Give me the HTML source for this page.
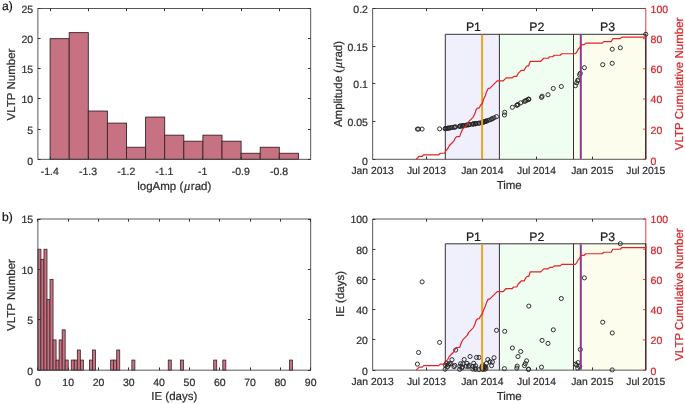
<!DOCTYPE html>
<html lang="en">
<head>
<meta charset="utf-8">
<title>VLTP amplitude and inter-event time statistics</title>
<style>
html,body{margin:0;padding:0;background:#fff;}
body{width:685px;height:404px;overflow:hidden;}
svg .mu{font-family:"Liberation Serif","DejaVu Serif",serif;}
svg text{stroke-width:0.22px;paint-order:stroke fill;}
svg{display:block;font-family:"Liberation Sans", Arial, Helvetica, sans-serif;opacity:0.999;will-change:transform;}
</style>
</head>
<body>
<svg width="685" height="404" viewBox="0 0 685 404" text-rendering="geometricPrecision">
<rect x="0" y="0" width="685" height="404" fill="#ffffff"/>
<rect x="50.1" y="38.66" width="19.1" height="120.64" fill="#c77282" stroke="#3a2226" stroke-width="0.9"/>
<rect x="69.2" y="32.63" width="19.1" height="126.67" fill="#c77282" stroke="#3a2226" stroke-width="0.9"/>
<rect x="88.3" y="111.04" width="19.1" height="48.26" fill="#c77282" stroke="#3a2226" stroke-width="0.9"/>
<rect x="107.4" y="123.11" width="19.1" height="36.19" fill="#c77282" stroke="#3a2226" stroke-width="0.9"/>
<rect x="126.5" y="147.24" width="19.1" height="12.06" fill="#c77282" stroke="#3a2226" stroke-width="0.9"/>
<rect x="145.6" y="117.08" width="19.1" height="42.22" fill="#c77282" stroke="#3a2226" stroke-width="0.9"/>
<rect x="164.7" y="135.17" width="19.1" height="24.13" fill="#c77282" stroke="#3a2226" stroke-width="0.9"/>
<rect x="183.8" y="141.2" width="19.1" height="18.1" fill="#c77282" stroke="#3a2226" stroke-width="0.9"/>
<rect x="202.9" y="135.17" width="19.1" height="24.13" fill="#c77282" stroke="#3a2226" stroke-width="0.9"/>
<rect x="222" y="141.2" width="19.1" height="18.1" fill="#c77282" stroke="#3a2226" stroke-width="0.9"/>
<rect x="241.1" y="153.27" width="19.1" height="6.03" fill="#c77282" stroke="#3a2226" stroke-width="0.9"/>
<rect x="260.2" y="147.24" width="19.1" height="12.06" fill="#c77282" stroke="#3a2226" stroke-width="0.9"/>
<rect x="279.3" y="153.27" width="19.1" height="6.03" fill="#c77282" stroke="#3a2226" stroke-width="0.9"/>
<rect x="37.9" y="8.5" width="272.8" height="150.8" fill="none" stroke="#454545" stroke-width="0.9"/>
<line x1="50.5" y1="159.3" x2="50.5" y2="156.6" stroke="#333" stroke-width="1"/>
<line x1="50.5" y1="8.5" x2="50.5" y2="11.2" stroke="#333" stroke-width="1"/>
<text x="49.8" y="174.8" font-size="10.5" text-anchor="middle" fill="#2e2e2e" stroke="#2e2e2e" >-1.4</text>
<line x1="88.5" y1="159.3" x2="88.5" y2="156.6" stroke="#333" stroke-width="1"/>
<line x1="88.5" y1="8.5" x2="88.5" y2="11.2" stroke="#333" stroke-width="1"/>
<text x="88" y="174.8" font-size="10.5" text-anchor="middle" fill="#2e2e2e" stroke="#2e2e2e" >-1.3</text>
<line x1="126.5" y1="159.3" x2="126.5" y2="156.6" stroke="#333" stroke-width="1"/>
<line x1="126.5" y1="8.5" x2="126.5" y2="11.2" stroke="#333" stroke-width="1"/>
<text x="126.2" y="174.8" font-size="10.5" text-anchor="middle" fill="#2e2e2e" stroke="#2e2e2e" >-1.2</text>
<line x1="164.5" y1="159.3" x2="164.5" y2="156.6" stroke="#333" stroke-width="1"/>
<line x1="164.5" y1="8.5" x2="164.5" y2="11.2" stroke="#333" stroke-width="1"/>
<text x="164.4" y="174.8" font-size="10.5" text-anchor="middle" fill="#2e2e2e" stroke="#2e2e2e" >-1.1</text>
<line x1="202.5" y1="159.3" x2="202.5" y2="156.6" stroke="#333" stroke-width="1"/>
<line x1="202.5" y1="8.5" x2="202.5" y2="11.2" stroke="#333" stroke-width="1"/>
<text x="202.6" y="174.8" font-size="10.5" text-anchor="middle" fill="#2e2e2e" stroke="#2e2e2e" >-1</text>
<line x1="241.5" y1="159.3" x2="241.5" y2="156.6" stroke="#333" stroke-width="1"/>
<line x1="241.5" y1="8.5" x2="241.5" y2="11.2" stroke="#333" stroke-width="1"/>
<text x="240.8" y="174.8" font-size="10.5" text-anchor="middle" fill="#2e2e2e" stroke="#2e2e2e" >-0.9</text>
<line x1="279.5" y1="159.3" x2="279.5" y2="156.6" stroke="#333" stroke-width="1"/>
<line x1="279.5" y1="8.5" x2="279.5" y2="11.2" stroke="#333" stroke-width="1"/>
<text x="279" y="174.8" font-size="10.5" text-anchor="middle" fill="#2e2e2e" stroke="#2e2e2e" >-0.8</text>
<line x1="37.9" y1="159.5" x2="40.6" y2="159.5" stroke="#333" stroke-width="1"/>
<line x1="310.7" y1="159.5" x2="308" y2="159.5" stroke="#333" stroke-width="1"/>
<text x="33.1" y="164.56" font-size="10.5" text-anchor="end" fill="#2e2e2e" stroke="#2e2e2e" >0</text>
<line x1="37.9" y1="129.5" x2="40.6" y2="129.5" stroke="#333" stroke-width="1"/>
<line x1="310.7" y1="129.5" x2="308" y2="129.5" stroke="#333" stroke-width="1"/>
<text x="33.1" y="133.6" font-size="10.5" text-anchor="end" fill="#2e2e2e" stroke="#2e2e2e" >5</text>
<line x1="37.9" y1="98.5" x2="40.6" y2="98.5" stroke="#333" stroke-width="1"/>
<line x1="310.7" y1="98.5" x2="308" y2="98.5" stroke="#333" stroke-width="1"/>
<text x="33.1" y="103.44" font-size="10.5" text-anchor="end" fill="#2e2e2e" stroke="#2e2e2e" >10</text>
<line x1="37.9" y1="68.5" x2="40.6" y2="68.5" stroke="#333" stroke-width="1"/>
<line x1="310.7" y1="68.5" x2="308" y2="68.5" stroke="#333" stroke-width="1"/>
<text x="33.1" y="73.28" font-size="10.5" text-anchor="end" fill="#2e2e2e" stroke="#2e2e2e" >15</text>
<line x1="37.9" y1="38.5" x2="40.6" y2="38.5" stroke="#333" stroke-width="1"/>
<line x1="310.7" y1="38.5" x2="308" y2="38.5" stroke="#333" stroke-width="1"/>
<text x="33.1" y="43.12" font-size="10.5" text-anchor="end" fill="#2e2e2e" stroke="#2e2e2e" >20</text>
<line x1="37.9" y1="8.5" x2="40.6" y2="8.5" stroke="#333" stroke-width="1"/>
<line x1="310.7" y1="8.5" x2="308" y2="8.5" stroke="#333" stroke-width="1"/>
<text x="33.1" y="12.96" font-size="10.5" text-anchor="end" fill="#2e2e2e" stroke="#2e2e2e" >25</text>
<text x="174.3" y="190.3" font-size="11.5" text-anchor="middle" fill="#2e2e2e" stroke="#2e2e2e" >logAmp (<tspan class="mu" font-style="italic" font-size="12.5" dx="0.6">μ</tspan><tspan dx="0.7">rad</tspan>)</text>
<text transform="translate(14.7 84.5) rotate(-90)" font-size="11.5" text-anchor="middle" fill="#2e2e2e" stroke="#2e2e2e">VLTP Number</text>
<text x="2" y="10.1" font-size="12.1" text-anchor="start" fill="#141414" stroke="#141414" >a)</text>
<rect x="37.9" y="249.23" width="3.03" height="120.92" fill="#c77282" stroke="#3a2226" stroke-width="0.8"/>
<rect x="40.93" y="259.31" width="3.03" height="110.84" fill="#c77282" stroke="#3a2226" stroke-width="0.8"/>
<rect x="43.96" y="249.23" width="3.03" height="120.92" fill="#c77282" stroke="#3a2226" stroke-width="0.8"/>
<rect x="46.99" y="299.61" width="3.03" height="70.54" fill="#c77282" stroke="#3a2226" stroke-width="0.8"/>
<rect x="50.02" y="279.46" width="3.03" height="90.69" fill="#c77282" stroke="#3a2226" stroke-width="0.8"/>
<rect x="53.06" y="339.92" width="3.03" height="30.23" fill="#c77282" stroke="#3a2226" stroke-width="0.8"/>
<rect x="56.09" y="360.07" width="3.03" height="10.08" fill="#c77282" stroke="#3a2226" stroke-width="0.8"/>
<rect x="59.12" y="339.92" width="3.03" height="30.23" fill="#c77282" stroke="#3a2226" stroke-width="0.8"/>
<rect x="62.15" y="329.84" width="3.03" height="40.31" fill="#c77282" stroke="#3a2226" stroke-width="0.8"/>
<rect x="65.18" y="360.07" width="3.03" height="10.08" fill="#c77282" stroke="#3a2226" stroke-width="0.8"/>
<rect x="71.24" y="360.07" width="3.03" height="10.08" fill="#c77282" stroke="#3a2226" stroke-width="0.8"/>
<rect x="74.27" y="360.07" width="3.03" height="10.08" fill="#c77282" stroke="#3a2226" stroke-width="0.8"/>
<rect x="77.3" y="350" width="3.03" height="20.15" fill="#c77282" stroke="#3a2226" stroke-width="0.8"/>
<rect x="80.34" y="360.07" width="3.03" height="10.08" fill="#c77282" stroke="#3a2226" stroke-width="0.8"/>
<rect x="89.43" y="360.07" width="3.03" height="10.08" fill="#c77282" stroke="#3a2226" stroke-width="0.8"/>
<rect x="92.46" y="350" width="3.03" height="20.15" fill="#c77282" stroke="#3a2226" stroke-width="0.8"/>
<rect x="110.65" y="360.07" width="3.03" height="10.08" fill="#c77282" stroke="#3a2226" stroke-width="0.8"/>
<rect x="113.68" y="360.07" width="3.03" height="10.08" fill="#c77282" stroke="#3a2226" stroke-width="0.8"/>
<rect x="116.71" y="350" width="3.03" height="20.15" fill="#c77282" stroke="#3a2226" stroke-width="0.8"/>
<rect x="131.86" y="360.07" width="3.03" height="10.08" fill="#c77282" stroke="#3a2226" stroke-width="0.8"/>
<rect x="168.24" y="360.07" width="3.03" height="10.08" fill="#c77282" stroke="#3a2226" stroke-width="0.8"/>
<rect x="180.36" y="360.07" width="3.03" height="10.08" fill="#c77282" stroke="#3a2226" stroke-width="0.8"/>
<rect x="213.7" y="360.07" width="3.03" height="10.08" fill="#c77282" stroke="#3a2226" stroke-width="0.8"/>
<rect x="222.8" y="360.07" width="3.03" height="10.08" fill="#c77282" stroke="#3a2226" stroke-width="0.8"/>
<rect x="289.48" y="360.07" width="3.03" height="10.08" fill="#c77282" stroke="#3a2226" stroke-width="0.8"/>
<rect x="37.9" y="219" width="272.8" height="151.15" fill="none" stroke="#454545" stroke-width="0.9"/>
<line x1="37.5" y1="370.15" x2="37.5" y2="367.45" stroke="#333" stroke-width="1"/>
<line x1="37.5" y1="219" x2="37.5" y2="221.7" stroke="#333" stroke-width="1"/>
<text x="37.9" y="385.8" font-size="10.5" text-anchor="middle" fill="#2e2e2e" stroke="#2e2e2e" >0</text>
<line x1="68.5" y1="370.15" x2="68.5" y2="367.45" stroke="#333" stroke-width="1"/>
<line x1="68.5" y1="219" x2="68.5" y2="221.7" stroke="#333" stroke-width="1"/>
<text x="68.21" y="385.8" font-size="10.5" text-anchor="middle" fill="#2e2e2e" stroke="#2e2e2e" >10</text>
<line x1="98.5" y1="370.15" x2="98.5" y2="367.45" stroke="#333" stroke-width="1"/>
<line x1="98.5" y1="219" x2="98.5" y2="221.7" stroke="#333" stroke-width="1"/>
<text x="98.52" y="385.8" font-size="10.5" text-anchor="middle" fill="#2e2e2e" stroke="#2e2e2e" >20</text>
<line x1="128.5" y1="370.15" x2="128.5" y2="367.45" stroke="#333" stroke-width="1"/>
<line x1="128.5" y1="219" x2="128.5" y2="221.7" stroke="#333" stroke-width="1"/>
<text x="128.83" y="385.8" font-size="10.5" text-anchor="middle" fill="#2e2e2e" stroke="#2e2e2e" >30</text>
<line x1="159.5" y1="370.15" x2="159.5" y2="367.45" stroke="#333" stroke-width="1"/>
<line x1="159.5" y1="219" x2="159.5" y2="221.7" stroke="#333" stroke-width="1"/>
<text x="159.14" y="385.8" font-size="10.5" text-anchor="middle" fill="#2e2e2e" stroke="#2e2e2e" >40</text>
<line x1="189.5" y1="370.15" x2="189.5" y2="367.45" stroke="#333" stroke-width="1"/>
<line x1="189.5" y1="219" x2="189.5" y2="221.7" stroke="#333" stroke-width="1"/>
<text x="189.46" y="385.8" font-size="10.5" text-anchor="middle" fill="#2e2e2e" stroke="#2e2e2e" >50</text>
<line x1="219.5" y1="370.15" x2="219.5" y2="367.45" stroke="#333" stroke-width="1"/>
<line x1="219.5" y1="219" x2="219.5" y2="221.7" stroke="#333" stroke-width="1"/>
<text x="219.77" y="385.8" font-size="10.5" text-anchor="middle" fill="#2e2e2e" stroke="#2e2e2e" >60</text>
<line x1="250.5" y1="370.15" x2="250.5" y2="367.45" stroke="#333" stroke-width="1"/>
<line x1="250.5" y1="219" x2="250.5" y2="221.7" stroke="#333" stroke-width="1"/>
<text x="250.08" y="385.8" font-size="10.5" text-anchor="middle" fill="#2e2e2e" stroke="#2e2e2e" >70</text>
<line x1="280.5" y1="370.15" x2="280.5" y2="367.45" stroke="#333" stroke-width="1"/>
<line x1="280.5" y1="219" x2="280.5" y2="221.7" stroke="#333" stroke-width="1"/>
<text x="280.39" y="385.8" font-size="10.5" text-anchor="middle" fill="#2e2e2e" stroke="#2e2e2e" >80</text>
<line x1="310.5" y1="370.15" x2="310.5" y2="367.45" stroke="#333" stroke-width="1"/>
<line x1="310.5" y1="219" x2="310.5" y2="221.7" stroke="#333" stroke-width="1"/>
<text x="310.7" y="385.8" font-size="10.5" text-anchor="middle" fill="#2e2e2e" stroke="#2e2e2e" >90</text>
<line x1="37.9" y1="370.5" x2="40.6" y2="370.5" stroke="#333" stroke-width="1"/>
<line x1="310.7" y1="370.5" x2="308" y2="370.5" stroke="#333" stroke-width="1"/>
<text x="33.1" y="375.41" font-size="10.5" text-anchor="end" fill="#2e2e2e" stroke="#2e2e2e" >0</text>
<line x1="37.9" y1="319.5" x2="40.6" y2="319.5" stroke="#333" stroke-width="1"/>
<line x1="310.7" y1="319.5" x2="308" y2="319.5" stroke="#333" stroke-width="1"/>
<text x="33.1" y="324.23" font-size="10.5" text-anchor="end" fill="#2e2e2e" stroke="#2e2e2e" >5</text>
<line x1="37.9" y1="269.5" x2="40.6" y2="269.5" stroke="#333" stroke-width="1"/>
<line x1="310.7" y1="269.5" x2="308" y2="269.5" stroke="#333" stroke-width="1"/>
<text x="33.1" y="273.84" font-size="10.5" text-anchor="end" fill="#2e2e2e" stroke="#2e2e2e" >10</text>
<line x1="37.9" y1="219.5" x2="40.6" y2="219.5" stroke="#333" stroke-width="1"/>
<line x1="310.7" y1="219.5" x2="308" y2="219.5" stroke="#333" stroke-width="1"/>
<text x="33.1" y="223.46" font-size="10.5" text-anchor="end" fill="#2e2e2e" stroke="#2e2e2e" >15</text>
<text x="174.3" y="400.2" font-size="11.5" text-anchor="middle" fill="#2e2e2e" stroke="#2e2e2e" >IE (days)</text>
<text transform="translate(14.7 295) rotate(-90)" font-size="11.5" text-anchor="middle" fill="#2e2e2e" stroke="#2e2e2e">VLTP Number</text>
<text x="2" y="220.6" font-size="12.1" text-anchor="start" fill="#141414" stroke="#141414" >b)</text>
<rect x="445.3" y="34.3" width="54.1" height="125" fill="#f0f0fd"/>
<rect x="499.4" y="34.3" width="74.1" height="125" fill="#f0fdf1"/>
<rect x="573.5" y="34.3" width="72.3" height="125" fill="#fdfdee"/>
<line x1="372.65" y1="8.5" x2="645.8" y2="8.5" stroke="#454545" stroke-width="0.9" />
<line x1="372.65" y1="159.3" x2="645.8" y2="159.3" stroke="#454545" stroke-width="0.9" />
<line x1="372.65" y1="8.5" x2="372.65" y2="159.3" stroke="#454545" stroke-width="0.9" />
<line x1="645.8" y1="8.5" x2="645.8" y2="159.3" stroke="#e32327" stroke-width="0.9" />
<line x1="426.5" y1="159.3" x2="426.5" y2="156.6" stroke="#333" stroke-width="1"/>
<line x1="426.5" y1="8.5" x2="426.5" y2="11.2" stroke="#333" stroke-width="1"/>
<line x1="482.5" y1="159.3" x2="482.5" y2="156.6" stroke="#333" stroke-width="1"/>
<line x1="482.5" y1="8.5" x2="482.5" y2="11.2" stroke="#333" stroke-width="1"/>
<line x1="536.5" y1="159.3" x2="536.5" y2="156.6" stroke="#333" stroke-width="1"/>
<line x1="536.5" y1="8.5" x2="536.5" y2="11.2" stroke="#333" stroke-width="1"/>
<line x1="592.5" y1="159.3" x2="592.5" y2="156.6" stroke="#333" stroke-width="1"/>
<line x1="592.5" y1="8.5" x2="592.5" y2="11.2" stroke="#333" stroke-width="1"/>
<line x1="445.3" y1="34.3" x2="445.3" y2="159.3" stroke="#333" stroke-width="1.0" />
<line x1="499.4" y1="34.3" x2="499.4" y2="159.3" stroke="#333" stroke-width="1.0" />
<line x1="573.5" y1="34.3" x2="573.5" y2="159.3" stroke="#333" stroke-width="1.0" />
<line x1="445.3" y1="34.3" x2="645.8" y2="34.3" stroke="#333" stroke-width="1.0" />
<line x1="645.8" y1="34.3" x2="645.8" y2="159.3" stroke="#2a1e1e" stroke-width="1.2" />
<circle cx="417.4" cy="129.1" r="2.05" fill="none" stroke="#262626" stroke-width="0.95"/>
<circle cx="418.6" cy="129.09" r="2.05" fill="none" stroke="#262626" stroke-width="0.95"/>
<circle cx="422.1" cy="129.06" r="2.05" fill="none" stroke="#262626" stroke-width="0.95"/>
<circle cx="439.6" cy="128.9" r="2.05" fill="none" stroke="#262626" stroke-width="0.95"/>
<circle cx="445.1" cy="128.68" r="2.05" fill="none" stroke="#262626" stroke-width="0.95"/>
<circle cx="445.28" cy="128.65" r="2.05" fill="none" stroke="#262626" stroke-width="0.95"/>
<circle cx="446.29" cy="128.49" r="2.05" fill="none" stroke="#262626" stroke-width="0.95"/>
<circle cx="447.65" cy="128.26" r="2.05" fill="none" stroke="#262626" stroke-width="0.95"/>
<circle cx="448.36" cy="128.14" r="2.05" fill="none" stroke="#262626" stroke-width="0.95"/>
<circle cx="449.4" cy="127.97" r="2.05" fill="none" stroke="#262626" stroke-width="0.95"/>
<circle cx="450.71" cy="127.75" r="2.05" fill="none" stroke="#262626" stroke-width="0.95"/>
<circle cx="451.96" cy="127.54" r="2.05" fill="none" stroke="#262626" stroke-width="0.95"/>
<circle cx="454.03" cy="127.19" r="2.05" fill="none" stroke="#262626" stroke-width="0.95"/>
<circle cx="454.72" cy="127.08" r="2.05" fill="none" stroke="#262626" stroke-width="0.95"/>
<circle cx="455.66" cy="126.92" r="2.05" fill="none" stroke="#262626" stroke-width="0.95"/>
<circle cx="459.64" cy="126.26" r="2.05" fill="none" stroke="#262626" stroke-width="0.95"/>
<circle cx="459.79" cy="126.24" r="2.05" fill="none" stroke="#262626" stroke-width="0.95"/>
<circle cx="460.56" cy="126.11" r="2.05" fill="none" stroke="#262626" stroke-width="0.95"/>
<circle cx="461.84" cy="125.89" r="2.05" fill="none" stroke="#262626" stroke-width="0.95"/>
<circle cx="462.28" cy="125.82" r="2.05" fill="none" stroke="#262626" stroke-width="0.95"/>
<circle cx="462.94" cy="125.71" r="2.05" fill="none" stroke="#262626" stroke-width="0.95"/>
<circle cx="464.18" cy="125.5" r="2.05" fill="none" stroke="#262626" stroke-width="0.95"/>
<circle cx="466.29" cy="125.15" r="2.05" fill="none" stroke="#262626" stroke-width="0.95"/>
<circle cx="467.06" cy="125.02" r="2.05" fill="none" stroke="#262626" stroke-width="0.95"/>
<circle cx="468.4" cy="124.8" r="2.05" fill="none" stroke="#262626" stroke-width="0.95"/>
<circle cx="469.11" cy="124.68" r="2.05" fill="none" stroke="#262626" stroke-width="0.95"/>
<circle cx="470.06" cy="124.52" r="2.05" fill="none" stroke="#262626" stroke-width="0.95"/>
<circle cx="472.76" cy="124.07" r="2.05" fill="none" stroke="#262626" stroke-width="0.95"/>
<circle cx="472.97" cy="124.04" r="2.05" fill="none" stroke="#262626" stroke-width="0.95"/>
<circle cx="473.71" cy="123.92" r="2.05" fill="none" stroke="#262626" stroke-width="0.95"/>
<circle cx="475.07" cy="123.69" r="2.05" fill="none" stroke="#262626" stroke-width="0.95"/>
<circle cx="475.49" cy="123.63" r="2.05" fill="none" stroke="#262626" stroke-width="0.95"/>
<circle cx="475.64" cy="123.62" r="2.05" fill="none" stroke="#262626" stroke-width="0.95"/>
<circle cx="476.5" cy="123.5" r="2.05" fill="none" stroke="#262626" stroke-width="0.95"/>
<circle cx="479.02" cy="123.16" r="2.05" fill="none" stroke="#262626" stroke-width="0.95"/>
<circle cx="479.11" cy="123.15" r="2.05" fill="none" stroke="#262626" stroke-width="0.95"/>
<circle cx="481.63" cy="122.68" r="2.05" fill="none" stroke="#262626" stroke-width="0.95"/>
<circle cx="482.08" cy="122.53" r="2.05" fill="none" stroke="#262626" stroke-width="0.95"/>
<circle cx="482.85" cy="122.26" r="2.05" fill="none" stroke="#262626" stroke-width="0.95"/>
<circle cx="482.97" cy="122.22" r="2.05" fill="none" stroke="#262626" stroke-width="0.95"/>
<circle cx="483.98" cy="121.87" r="2.05" fill="none" stroke="#262626" stroke-width="0.95"/>
<circle cx="484.45" cy="121.71" r="2.05" fill="none" stroke="#262626" stroke-width="0.95"/>
<circle cx="485.13" cy="121.48" r="2.05" fill="none" stroke="#262626" stroke-width="0.95"/>
<circle cx="485.31" cy="121.41" r="2.05" fill="none" stroke="#262626" stroke-width="0.95"/>
<circle cx="486.02" cy="121.17" r="2.05" fill="none" stroke="#262626" stroke-width="0.95"/>
<circle cx="486.44" cy="121.03" r="2.05" fill="none" stroke="#262626" stroke-width="0.95"/>
<circle cx="487.78" cy="120.57" r="2.05" fill="none" stroke="#262626" stroke-width="0.95"/>
<circle cx="489.88" cy="119.84" r="2.05" fill="none" stroke="#262626" stroke-width="0.95"/>
<circle cx="491.54" cy="119.05" r="2.05" fill="none" stroke="#262626" stroke-width="0.95"/>
<circle cx="492.43" cy="118.62" r="2.05" fill="none" stroke="#262626" stroke-width="0.95"/>
<circle cx="494.04" cy="117.84" r="2.05" fill="none" stroke="#262626" stroke-width="0.95"/>
<circle cx="496.5" cy="116.64" r="2.05" fill="none" stroke="#262626" stroke-width="0.95"/>
<circle cx="504.4" cy="115" r="2.05" fill="none" stroke="#262626" stroke-width="0.95"/>
<circle cx="504.7" cy="112.3" r="2.05" fill="none" stroke="#262626" stroke-width="0.95"/>
<circle cx="512.4" cy="107.3" r="2.05" fill="none" stroke="#262626" stroke-width="0.95"/>
<circle cx="516.8" cy="105.3" r="2.05" fill="none" stroke="#262626" stroke-width="0.95"/>
<circle cx="517.2" cy="105.05" r="2.05" fill="none" stroke="#262626" stroke-width="0.95"/>
<circle cx="518" cy="104.55" r="2.05" fill="none" stroke="#262626" stroke-width="0.95"/>
<circle cx="520.7" cy="102.86" r="2.05" fill="none" stroke="#262626" stroke-width="0.95"/>
<circle cx="524.4" cy="101.36" r="2.05" fill="none" stroke="#262626" stroke-width="0.95"/>
<circle cx="525.3" cy="100.97" r="2.05" fill="none" stroke="#262626" stroke-width="0.95"/>
<circle cx="526.6" cy="100.35" r="2.05" fill="none" stroke="#262626" stroke-width="0.95"/>
<circle cx="528.45" cy="99.37" r="2.05" fill="none" stroke="#262626" stroke-width="0.95"/>
<circle cx="528.6" cy="99.29" r="2.05" fill="none" stroke="#262626" stroke-width="0.95"/>
<circle cx="528.8" cy="99.17" r="2.05" fill="none" stroke="#262626" stroke-width="0.95"/>
<circle cx="541.5" cy="97.4" r="2.05" fill="none" stroke="#262626" stroke-width="0.95"/>
<circle cx="542.1" cy="96.2" r="2.05" fill="none" stroke="#262626" stroke-width="0.95"/>
<circle cx="548" cy="94.75" r="2.05" fill="none" stroke="#262626" stroke-width="0.95"/>
<circle cx="553.3" cy="88.45" r="2.05" fill="none" stroke="#262626" stroke-width="0.95"/>
<circle cx="561.3" cy="86.5" r="2.05" fill="none" stroke="#262626" stroke-width="0.95"/>
<circle cx="575.5" cy="85.67" r="2.05" fill="none" stroke="#262626" stroke-width="0.95"/>
<circle cx="576.7" cy="82.89" r="2.05" fill="none" stroke="#262626" stroke-width="0.95"/>
<circle cx="577.7" cy="80.74" r="2.05" fill="none" stroke="#262626" stroke-width="0.95"/>
<circle cx="578.1" cy="79.98" r="2.05" fill="none" stroke="#262626" stroke-width="0.95"/>
<circle cx="579.6" cy="74.75" r="2.05" fill="none" stroke="#262626" stroke-width="0.95"/>
<circle cx="580.3" cy="73.3" r="2.05" fill="none" stroke="#262626" stroke-width="0.95"/>
<circle cx="584.4" cy="67.68" r="2.05" fill="none" stroke="#262626" stroke-width="0.95"/>
<circle cx="602.7" cy="64.7" r="2.05" fill="none" stroke="#262626" stroke-width="0.95"/>
<circle cx="612.2" cy="63.3" r="2.05" fill="none" stroke="#262626" stroke-width="0.95"/>
<circle cx="612.25" cy="49.2" r="2.05" fill="none" stroke="#262626" stroke-width="0.95"/>
<circle cx="620.3" cy="47.79" r="2.05" fill="none" stroke="#262626" stroke-width="0.95"/>
<circle cx="645.8" cy="34.3" r="2.05" fill="none" stroke="#262626" stroke-width="0.95"/>
<line x1="482.1" y1="34.8" x2="482.1" y2="158.9" stroke="#e8a526" stroke-width="2.0" />
<line x1="580.8" y1="34.8" x2="580.8" y2="158.9" stroke="#843c96" stroke-width="2.0" />
<path d="M416.2 159.3 L417.7 157.79 L419.2 156.28 L422.2 156.28 L423.7 154.78 L438.7 154.78 L440.2 153.27 L444.7 153.27 L446.2 150.25 L447.7 148.74 L449.2 145.73 L450.7 144.22 L452.2 142.71 L453.7 141.2 L455.2 138.19 L456.7 136.68 L459.7 136.68 L461.2 132.16 L462.7 129.14 L464.2 127.63 L465.7 126.12 L467.2 124.62 L468.7 121.6 L470.2 120.09 L471.7 118.58 L473.2 117.08 L474.7 114.06 L476.2 109.54 L477.7 108.03 L479.2 108.03 L480.7 105.01 L482.2 103.5 L483.7 98.98 L485.2 95.96 L486.7 91.44 L488.2 88.42 L489.7 88.42 L491.2 86.92 L492.7 85.41 L494.2 83.9 L495.7 82.39 L497.2 80.88 L503.2 80.88 L504.7 79.38 L506.2 77.87 L512.2 77.87 L513.7 76.36 L516.7 76.36 L518.2 73.34 L519.7 71.84 L521.2 70.33 L524.2 70.33 L525.7 67.31 L527.2 65.8 L528.7 65.8 L530.2 61.28 L540.7 61.28 L542.2 59.77 L543.7 58.26 L548.2 58.26 L549.7 56.76 L552.7 56.76 L554.2 55.25 L560.2 55.25 L561.7 53.74 L575.2 53.74 L576.7 52.23 L578.2 49.22 L579.7 47.71 L581.2 44.69 L584.2 44.69 L585.7 43.18 L602.2 43.18 L603.7 41.68 L611.2 41.68 L612.7 38.66 L620.2 38.66 L621.7 37.15 L645.7 37.15 L645.8 35.64" fill="none" stroke="#e32327" stroke-width="1.2" stroke-linejoin="round"/>
<line x1="372.65" y1="159.5" x2="375.35" y2="159.5" stroke="#333" stroke-width="1"/>
<text x="367.95" y="164.56" font-size="10.5" text-anchor="end" fill="#2e2e2e" stroke="#2e2e2e" >0</text>
<line x1="372.65" y1="121.5" x2="375.35" y2="121.5" stroke="#333" stroke-width="1"/>
<text x="367.95" y="126.06" font-size="10.5" text-anchor="end" fill="#2e2e2e" stroke="#2e2e2e" >0.05</text>
<line x1="372.65" y1="83.5" x2="375.35" y2="83.5" stroke="#333" stroke-width="1"/>
<text x="367.95" y="88.36" font-size="10.5" text-anchor="end" fill="#2e2e2e" stroke="#2e2e2e" >0.1</text>
<line x1="372.65" y1="46.5" x2="375.35" y2="46.5" stroke="#333" stroke-width="1"/>
<text x="367.95" y="50.66" font-size="10.5" text-anchor="end" fill="#2e2e2e" stroke="#2e2e2e" >0.15</text>
<line x1="372.65" y1="8.5" x2="375.35" y2="8.5" stroke="#333" stroke-width="1"/>
<text x="367.95" y="12.96" font-size="10.5" text-anchor="end" fill="#2e2e2e" stroke="#2e2e2e" >0.2</text>
<line x1="645.8" y1="159.3" x2="643.1" y2="159.3" stroke="#e32327" stroke-width="0.9" />
<text x="650.6" y="164.56" font-size="10.5" text-anchor="start" fill="#d8252a" stroke="#d8252a" >0</text>
<line x1="645.8" y1="129.14" x2="643.1" y2="129.14" stroke="#e32327" stroke-width="0.9" />
<text x="650.6" y="133.6" font-size="10.5" text-anchor="start" fill="#d8252a" stroke="#d8252a" >20</text>
<line x1="645.8" y1="98.98" x2="643.1" y2="98.98" stroke="#e32327" stroke-width="0.9" />
<text x="650.6" y="103.44" font-size="10.5" text-anchor="start" fill="#d8252a" stroke="#d8252a" >40</text>
<line x1="645.8" y1="68.82" x2="643.1" y2="68.82" stroke="#e32327" stroke-width="0.9" />
<text x="650.6" y="73.28" font-size="10.5" text-anchor="start" fill="#d8252a" stroke="#d8252a" >60</text>
<line x1="645.8" y1="38.66" x2="643.1" y2="38.66" stroke="#e32327" stroke-width="0.9" />
<text x="650.6" y="43.12" font-size="10.5" text-anchor="start" fill="#d8252a" stroke="#d8252a" >80</text>
<line x1="645.8" y1="8.5" x2="643.1" y2="8.5" stroke="#e32327" stroke-width="0.9" />
<text x="650.6" y="12.96" font-size="10.5" text-anchor="start" fill="#d8252a" stroke="#d8252a" >100</text>
<text x="372.65" y="174.2" font-size="10.3" text-anchor="middle" fill="#2e2e2e" stroke="#2e2e2e" >Jan 2013</text>
<text x="426.4" y="174.2" font-size="10.3" text-anchor="middle" fill="#2e2e2e" stroke="#2e2e2e" >Jul 2013</text>
<text x="482.4" y="174.2" font-size="10.3" text-anchor="middle" fill="#2e2e2e" stroke="#2e2e2e" >Jan 2014</text>
<text x="536.5" y="174.2" font-size="10.3" text-anchor="middle" fill="#2e2e2e" stroke="#2e2e2e" >Jul 2014</text>
<text x="592.4" y="174.2" font-size="10.3" text-anchor="middle" fill="#2e2e2e" stroke="#2e2e2e" >Jan 2015</text>
<text x="645.8" y="174.2" font-size="10.3" text-anchor="middle" fill="#2e2e2e" stroke="#2e2e2e" >Jul 2015</text>
<text x="509.22" y="189.3" font-size="11.5" text-anchor="middle" fill="#2e2e2e" stroke="#2e2e2e" >Time</text>
<text x="473.4" y="31.2" font-size="12.3" text-anchor="middle" fill="#1a1a1a" stroke="#1a1a1a" >P1</text>
<text x="536.8" y="31.2" font-size="12.3" text-anchor="middle" fill="#1a1a1a" stroke="#1a1a1a" >P2</text>
<text x="607.5" y="31.2" font-size="12.3" text-anchor="middle" fill="#1a1a1a" stroke="#1a1a1a" >P3</text>
<text transform="translate(683.4 83.9) rotate(-90)" font-size="11.5" text-anchor="middle" fill="#d8252a" stroke="#d8252a">VLTP Cumulative Number</text>
<text transform="translate(341.6 84) rotate(-90)" font-size="11.5" text-anchor="middle" fill="#2e2e2e" stroke="#2e2e2e">Amplitude (<tspan class="mu" font-style="italic" font-size="12.5" dx="0.6">μ</tspan><tspan dx="0.7">rad</tspan>)</text>
<rect x="445.3" y="243.8" width="54.1" height="126.35" fill="#f0f0fd"/>
<rect x="499.4" y="243.8" width="74.1" height="126.35" fill="#f0fdf1"/>
<rect x="573.5" y="243.8" width="72.3" height="126.35" fill="#fdfdee"/>
<line x1="372.65" y1="219" x2="645.8" y2="219" stroke="#454545" stroke-width="0.9" />
<line x1="372.65" y1="370.15" x2="645.8" y2="370.15" stroke="#454545" stroke-width="0.9" />
<line x1="372.65" y1="219" x2="372.65" y2="370.15" stroke="#454545" stroke-width="0.9" />
<line x1="645.8" y1="219" x2="645.8" y2="370.15" stroke="#e32327" stroke-width="0.9" />
<line x1="426.5" y1="370.15" x2="426.5" y2="367.45" stroke="#333" stroke-width="1"/>
<line x1="426.5" y1="219" x2="426.5" y2="221.7" stroke="#333" stroke-width="1"/>
<line x1="482.5" y1="370.15" x2="482.5" y2="367.45" stroke="#333" stroke-width="1"/>
<line x1="482.5" y1="219" x2="482.5" y2="221.7" stroke="#333" stroke-width="1"/>
<line x1="536.5" y1="370.15" x2="536.5" y2="367.45" stroke="#333" stroke-width="1"/>
<line x1="536.5" y1="219" x2="536.5" y2="221.7" stroke="#333" stroke-width="1"/>
<line x1="592.5" y1="370.15" x2="592.5" y2="367.45" stroke="#333" stroke-width="1"/>
<line x1="592.5" y1="219" x2="592.5" y2="221.7" stroke="#333" stroke-width="1"/>
<line x1="445.3" y1="243.8" x2="445.3" y2="370.15" stroke="#333" stroke-width="1.0" />
<line x1="499.4" y1="243.8" x2="499.4" y2="370.15" stroke="#333" stroke-width="1.0" />
<line x1="573.5" y1="243.8" x2="573.5" y2="370.15" stroke="#333" stroke-width="1.0" />
<line x1="445.3" y1="243.8" x2="645.8" y2="243.8" stroke="#333" stroke-width="1.0" />
<line x1="645.8" y1="243.8" x2="645.8" y2="370.15" stroke="#2a1e1e" stroke-width="1.2" />
<circle cx="417.4" cy="364.1" r="2.05" fill="none" stroke="#262626" stroke-width="0.95"/>
<circle cx="418.6" cy="352.5" r="2.05" fill="none" stroke="#262626" stroke-width="0.95"/>
<circle cx="422.1" cy="281.88" r="2.05" fill="none" stroke="#262626" stroke-width="0.95"/>
<circle cx="439.6" cy="342.41" r="2.05" fill="none" stroke="#262626" stroke-width="0.95"/>
<circle cx="445.1" cy="369.25" r="2.05" fill="none" stroke="#262626" stroke-width="0.95"/>
<circle cx="445.28" cy="365.06" r="2.05" fill="none" stroke="#262626" stroke-width="0.95"/>
<circle cx="446.29" cy="363.27" r="2.05" fill="none" stroke="#262626" stroke-width="0.95"/>
<circle cx="447.65" cy="366.56" r="2.05" fill="none" stroke="#262626" stroke-width="0.95"/>
<circle cx="448.36" cy="364.91" r="2.05" fill="none" stroke="#262626" stroke-width="0.95"/>
<circle cx="449.4" cy="363.56" r="2.05" fill="none" stroke="#262626" stroke-width="0.95"/>
<circle cx="450.71" cy="363.86" r="2.05" fill="none" stroke="#262626" stroke-width="0.95"/>
<circle cx="451.96" cy="359.67" r="2.05" fill="none" stroke="#262626" stroke-width="0.95"/>
<circle cx="454.03" cy="366.71" r="2.05" fill="none" stroke="#262626" stroke-width="0.95"/>
<circle cx="454.72" cy="365.36" r="2.05" fill="none" stroke="#262626" stroke-width="0.95"/>
<circle cx="455.66" cy="350.09" r="2.05" fill="none" stroke="#262626" stroke-width="0.95"/>
<circle cx="459.64" cy="369.4" r="2.05" fill="none" stroke="#262626" stroke-width="0.95"/>
<circle cx="459.79" cy="366.26" r="2.05" fill="none" stroke="#262626" stroke-width="0.95"/>
<circle cx="460.56" cy="363.71" r="2.05" fill="none" stroke="#262626" stroke-width="0.95"/>
<circle cx="461.84" cy="367.9" r="2.05" fill="none" stroke="#262626" stroke-width="0.95"/>
<circle cx="462.28" cy="366.86" r="2.05" fill="none" stroke="#262626" stroke-width="0.95"/>
<circle cx="462.94" cy="363.86" r="2.05" fill="none" stroke="#262626" stroke-width="0.95"/>
<circle cx="464.18" cy="359.52" r="2.05" fill="none" stroke="#262626" stroke-width="0.95"/>
<circle cx="466.29" cy="366.26" r="2.05" fill="none" stroke="#262626" stroke-width="0.95"/>
<circle cx="467.06" cy="363.41" r="2.05" fill="none" stroke="#262626" stroke-width="0.95"/>
<circle cx="468.4" cy="366.56" r="2.05" fill="none" stroke="#262626" stroke-width="0.95"/>
<circle cx="469.11" cy="365.36" r="2.05" fill="none" stroke="#262626" stroke-width="0.95"/>
<circle cx="470.06" cy="356.53" r="2.05" fill="none" stroke="#262626" stroke-width="0.95"/>
<circle cx="472.76" cy="369.1" r="2.05" fill="none" stroke="#262626" stroke-width="0.95"/>
<circle cx="472.97" cy="366.41" r="2.05" fill="none" stroke="#262626" stroke-width="0.95"/>
<circle cx="473.71" cy="363.27" r="2.05" fill="none" stroke="#262626" stroke-width="0.95"/>
<circle cx="475.07" cy="368.05" r="2.05" fill="none" stroke="#262626" stroke-width="0.95"/>
<circle cx="475.49" cy="369.4" r="2.05" fill="none" stroke="#262626" stroke-width="0.95"/>
<circle cx="475.64" cy="365.81" r="2.05" fill="none" stroke="#262626" stroke-width="0.95"/>
<circle cx="476.5" cy="357.43" r="2.05" fill="none" stroke="#262626" stroke-width="0.95"/>
<circle cx="479.02" cy="369.7" r="2.05" fill="none" stroke="#262626" stroke-width="0.95"/>
<circle cx="479.11" cy="357.43" r="2.05" fill="none" stroke="#262626" stroke-width="0.95"/>
<circle cx="481.63" cy="367.9" r="2.05" fill="none" stroke="#262626" stroke-width="0.95"/>
<circle cx="482.08" cy="366.26" r="2.05" fill="none" stroke="#262626" stroke-width="0.95"/>
<circle cx="482.85" cy="369.55" r="2.05" fill="none" stroke="#262626" stroke-width="0.95"/>
<circle cx="482.97" cy="365.06" r="2.05" fill="none" stroke="#262626" stroke-width="0.95"/>
<circle cx="483.98" cy="367.76" r="2.05" fill="none" stroke="#262626" stroke-width="0.95"/>
<circle cx="484.45" cy="366.71" r="2.05" fill="none" stroke="#262626" stroke-width="0.95"/>
<circle cx="485.13" cy="369.25" r="2.05" fill="none" stroke="#262626" stroke-width="0.95"/>
<circle cx="485.31" cy="366.56" r="2.05" fill="none" stroke="#262626" stroke-width="0.95"/>
<circle cx="486.02" cy="368.05" r="2.05" fill="none" stroke="#262626" stroke-width="0.95"/>
<circle cx="486.44" cy="363.41" r="2.05" fill="none" stroke="#262626" stroke-width="0.95"/>
<circle cx="487.78" cy="359.52" r="2.05" fill="none" stroke="#262626" stroke-width="0.95"/>
<circle cx="489.88" cy="361.77" r="2.05" fill="none" stroke="#262626" stroke-width="0.95"/>
<circle cx="491.54" cy="365.66" r="2.05" fill="none" stroke="#262626" stroke-width="0.95"/>
<circle cx="492.43" cy="362.07" r="2.05" fill="none" stroke="#262626" stroke-width="0.95"/>
<circle cx="494.04" cy="357.73" r="2.05" fill="none" stroke="#262626" stroke-width="0.95"/>
<circle cx="496.5" cy="330.31" r="2.05" fill="none" stroke="#262626" stroke-width="0.95"/>
<circle cx="504.4" cy="368.64" r="2.05" fill="none" stroke="#262626" stroke-width="0.95"/>
<circle cx="504.7" cy="331.32" r="2.05" fill="none" stroke="#262626" stroke-width="0.95"/>
<circle cx="512.4" cy="347.96" r="2.05" fill="none" stroke="#262626" stroke-width="0.95"/>
<circle cx="516.8" cy="368.13" r="2.05" fill="none" stroke="#262626" stroke-width="0.95"/>
<circle cx="517.2" cy="366.12" r="2.05" fill="none" stroke="#262626" stroke-width="0.95"/>
<circle cx="518" cy="356.53" r="2.05" fill="none" stroke="#262626" stroke-width="0.95"/>
<circle cx="520.7" cy="351.49" r="2.05" fill="none" stroke="#262626" stroke-width="0.95"/>
<circle cx="524.4" cy="365.61" r="2.05" fill="none" stroke="#262626" stroke-width="0.95"/>
<circle cx="525.3" cy="363.59" r="2.05" fill="none" stroke="#262626" stroke-width="0.95"/>
<circle cx="526.6" cy="360.82" r="2.05" fill="none" stroke="#262626" stroke-width="0.95"/>
<circle cx="528.45" cy="369.39" r="2.05" fill="none" stroke="#262626" stroke-width="0.95"/>
<circle cx="528.6" cy="369.14" r="2.05" fill="none" stroke="#262626" stroke-width="0.95"/>
<circle cx="528.8" cy="306.1" r="2.05" fill="none" stroke="#262626" stroke-width="0.95"/>
<circle cx="541.5" cy="367.12" r="2.05" fill="none" stroke="#262626" stroke-width="0.95"/>
<circle cx="542.1" cy="340.39" r="2.05" fill="none" stroke="#262626" stroke-width="0.95"/>
<circle cx="548" cy="343.42" r="2.05" fill="none" stroke="#262626" stroke-width="0.95"/>
<circle cx="553.3" cy="329.8" r="2.05" fill="none" stroke="#262626" stroke-width="0.95"/>
<circle cx="561.3" cy="298.53" r="2.05" fill="none" stroke="#262626" stroke-width="0.95"/>
<circle cx="575.5" cy="364.1" r="2.05" fill="none" stroke="#262626" stroke-width="0.95"/>
<circle cx="576.7" cy="365.11" r="2.05" fill="none" stroke="#262626" stroke-width="0.95"/>
<circle cx="577.7" cy="368.13" r="2.05" fill="none" stroke="#262626" stroke-width="0.95"/>
<circle cx="578.1" cy="362.58" r="2.05" fill="none" stroke="#262626" stroke-width="0.95"/>
<circle cx="579.6" cy="366.62" r="2.05" fill="none" stroke="#262626" stroke-width="0.95"/>
<circle cx="580.3" cy="349.47" r="2.05" fill="none" stroke="#262626" stroke-width="0.95"/>
<circle cx="584.4" cy="277.86" r="2.05" fill="none" stroke="#262626" stroke-width="0.95"/>
<circle cx="602.7" cy="322.24" r="2.05" fill="none" stroke="#262626" stroke-width="0.95"/>
<circle cx="612.2" cy="369.9" r="2.05" fill="none" stroke="#262626" stroke-width="0.95"/>
<circle cx="612.25" cy="332.97" r="2.05" fill="none" stroke="#262626" stroke-width="0.95"/>
<circle cx="620.3" cy="243.64" r="2.05" fill="none" stroke="#262626" stroke-width="0.95"/>
<line x1="482.1" y1="244.3" x2="482.1" y2="369.75" stroke="#e8a526" stroke-width="2.0" />
<line x1="580.8" y1="244.3" x2="580.8" y2="369.75" stroke="#843c96" stroke-width="2.0" />
<path d="M416.2 370.15 L417.7 368.64 L419.2 367.13 L422.2 367.13 L423.7 365.62 L438.7 365.62 L440.2 364.1 L444.7 364.1 L446.2 361.08 L447.7 359.57 L449.2 356.55 L450.7 355.03 L452.2 353.52 L453.7 352.01 L455.2 348.99 L456.7 347.48 L459.7 347.48 L461.2 342.94 L462.7 339.92 L464.2 338.41 L465.7 336.9 L467.2 335.39 L468.7 332.36 L470.2 330.85 L471.7 329.34 L473.2 327.83 L474.7 324.8 L476.2 320.27 L477.7 318.76 L479.2 318.76 L480.7 315.74 L482.2 314.22 L483.7 309.69 L485.2 306.67 L486.7 302.13 L488.2 299.11 L489.7 299.11 L491.2 297.6 L492.7 296.09 L494.2 294.57 L495.7 293.06 L497.2 291.55 L503.2 291.55 L504.7 290.04 L506.2 288.53 L512.2 288.53 L513.7 287.02 L516.7 287.02 L518.2 283.99 L519.7 282.48 L521.2 280.97 L524.2 280.97 L525.7 277.95 L527.2 276.44 L528.7 276.44 L530.2 271.9 L540.7 271.9 L542.2 270.39 L543.7 268.88 L548.2 268.88 L549.7 267.37 L552.7 267.37 L554.2 265.86 L560.2 265.86 L561.7 264.34 L575.2 264.34 L576.7 262.83 L578.2 259.81 L579.7 258.3 L581.2 255.28 L584.2 255.28 L585.7 253.76 L602.2 253.76 L603.7 252.25 L611.2 252.25 L612.7 249.23 L620.2 249.23 L621.7 247.72 L645.7 247.72 L645.8 246.21" fill="none" stroke="#e32327" stroke-width="1.2" stroke-linejoin="round"/>
<line x1="372.65" y1="370.5" x2="375.35" y2="370.5" stroke="#333" stroke-width="1"/>
<text x="367.95" y="375.41" font-size="10.5" text-anchor="end" fill="#2e2e2e" stroke="#2e2e2e" >0</text>
<line x1="372.65" y1="339.5" x2="375.35" y2="339.5" stroke="#333" stroke-width="1"/>
<text x="367.95" y="344.38" font-size="10.5" text-anchor="end" fill="#2e2e2e" stroke="#2e2e2e" >20</text>
<line x1="372.65" y1="309.5" x2="375.35" y2="309.5" stroke="#333" stroke-width="1"/>
<text x="367.95" y="314.15" font-size="10.5" text-anchor="end" fill="#2e2e2e" stroke="#2e2e2e" >40</text>
<line x1="372.65" y1="279.5" x2="375.35" y2="279.5" stroke="#333" stroke-width="1"/>
<text x="367.95" y="283.92" font-size="10.5" text-anchor="end" fill="#2e2e2e" stroke="#2e2e2e" >60</text>
<line x1="372.65" y1="249.5" x2="375.35" y2="249.5" stroke="#333" stroke-width="1"/>
<text x="367.95" y="253.69" font-size="10.5" text-anchor="end" fill="#2e2e2e" stroke="#2e2e2e" >80</text>
<line x1="372.65" y1="219.5" x2="375.35" y2="219.5" stroke="#333" stroke-width="1"/>
<text x="367.95" y="223.46" font-size="10.5" text-anchor="end" fill="#2e2e2e" stroke="#2e2e2e" >100</text>
<line x1="645.8" y1="370.15" x2="643.1" y2="370.15" stroke="#e32327" stroke-width="0.9" />
<text x="650.6" y="375.41" font-size="10.5" text-anchor="start" fill="#d8252a" stroke="#d8252a" >0</text>
<line x1="645.8" y1="339.92" x2="643.1" y2="339.92" stroke="#e32327" stroke-width="0.9" />
<text x="650.6" y="344.38" font-size="10.5" text-anchor="start" fill="#d8252a" stroke="#d8252a" >20</text>
<line x1="645.8" y1="309.69" x2="643.1" y2="309.69" stroke="#e32327" stroke-width="0.9" />
<text x="650.6" y="314.15" font-size="10.5" text-anchor="start" fill="#d8252a" stroke="#d8252a" >40</text>
<line x1="645.8" y1="279.46" x2="643.1" y2="279.46" stroke="#e32327" stroke-width="0.9" />
<text x="650.6" y="283.92" font-size="10.5" text-anchor="start" fill="#d8252a" stroke="#d8252a" >60</text>
<line x1="645.8" y1="249.23" x2="643.1" y2="249.23" stroke="#e32327" stroke-width="0.9" />
<text x="650.6" y="253.69" font-size="10.5" text-anchor="start" fill="#d8252a" stroke="#d8252a" >80</text>
<line x1="645.8" y1="219" x2="643.1" y2="219" stroke="#e32327" stroke-width="0.9" />
<text x="650.6" y="223.46" font-size="10.5" text-anchor="start" fill="#d8252a" stroke="#d8252a" >100</text>
<text x="372.65" y="385.05" font-size="10.3" text-anchor="middle" fill="#2e2e2e" stroke="#2e2e2e" >Jan 2013</text>
<text x="426.4" y="385.05" font-size="10.3" text-anchor="middle" fill="#2e2e2e" stroke="#2e2e2e" >Jul 2013</text>
<text x="482.4" y="385.05" font-size="10.3" text-anchor="middle" fill="#2e2e2e" stroke="#2e2e2e" >Jan 2014</text>
<text x="536.5" y="385.05" font-size="10.3" text-anchor="middle" fill="#2e2e2e" stroke="#2e2e2e" >Jul 2014</text>
<text x="592.4" y="385.05" font-size="10.3" text-anchor="middle" fill="#2e2e2e" stroke="#2e2e2e" >Jan 2015</text>
<text x="645.8" y="385.05" font-size="10.3" text-anchor="middle" fill="#2e2e2e" stroke="#2e2e2e" >Jul 2015</text>
<text x="509.22" y="400.15" font-size="11.5" text-anchor="middle" fill="#2e2e2e" stroke="#2e2e2e" >Time</text>
<text x="473.4" y="240.7" font-size="12.3" text-anchor="middle" fill="#1a1a1a" stroke="#1a1a1a" >P1</text>
<text x="536.8" y="240.7" font-size="12.3" text-anchor="middle" fill="#1a1a1a" stroke="#1a1a1a" >P2</text>
<text x="607.5" y="240.7" font-size="12.3" text-anchor="middle" fill="#1a1a1a" stroke="#1a1a1a" >P3</text>
<text transform="translate(683.4 294.57) rotate(-90)" font-size="11.5" text-anchor="middle" fill="#d8252a" stroke="#d8252a">VLTP Cumulative Number</text>
<text transform="translate(344.1 294) rotate(-90)" font-size="11.5" text-anchor="middle" fill="#2e2e2e" stroke="#2e2e2e">IE (days)</text>
</svg>
</body>
</html>
